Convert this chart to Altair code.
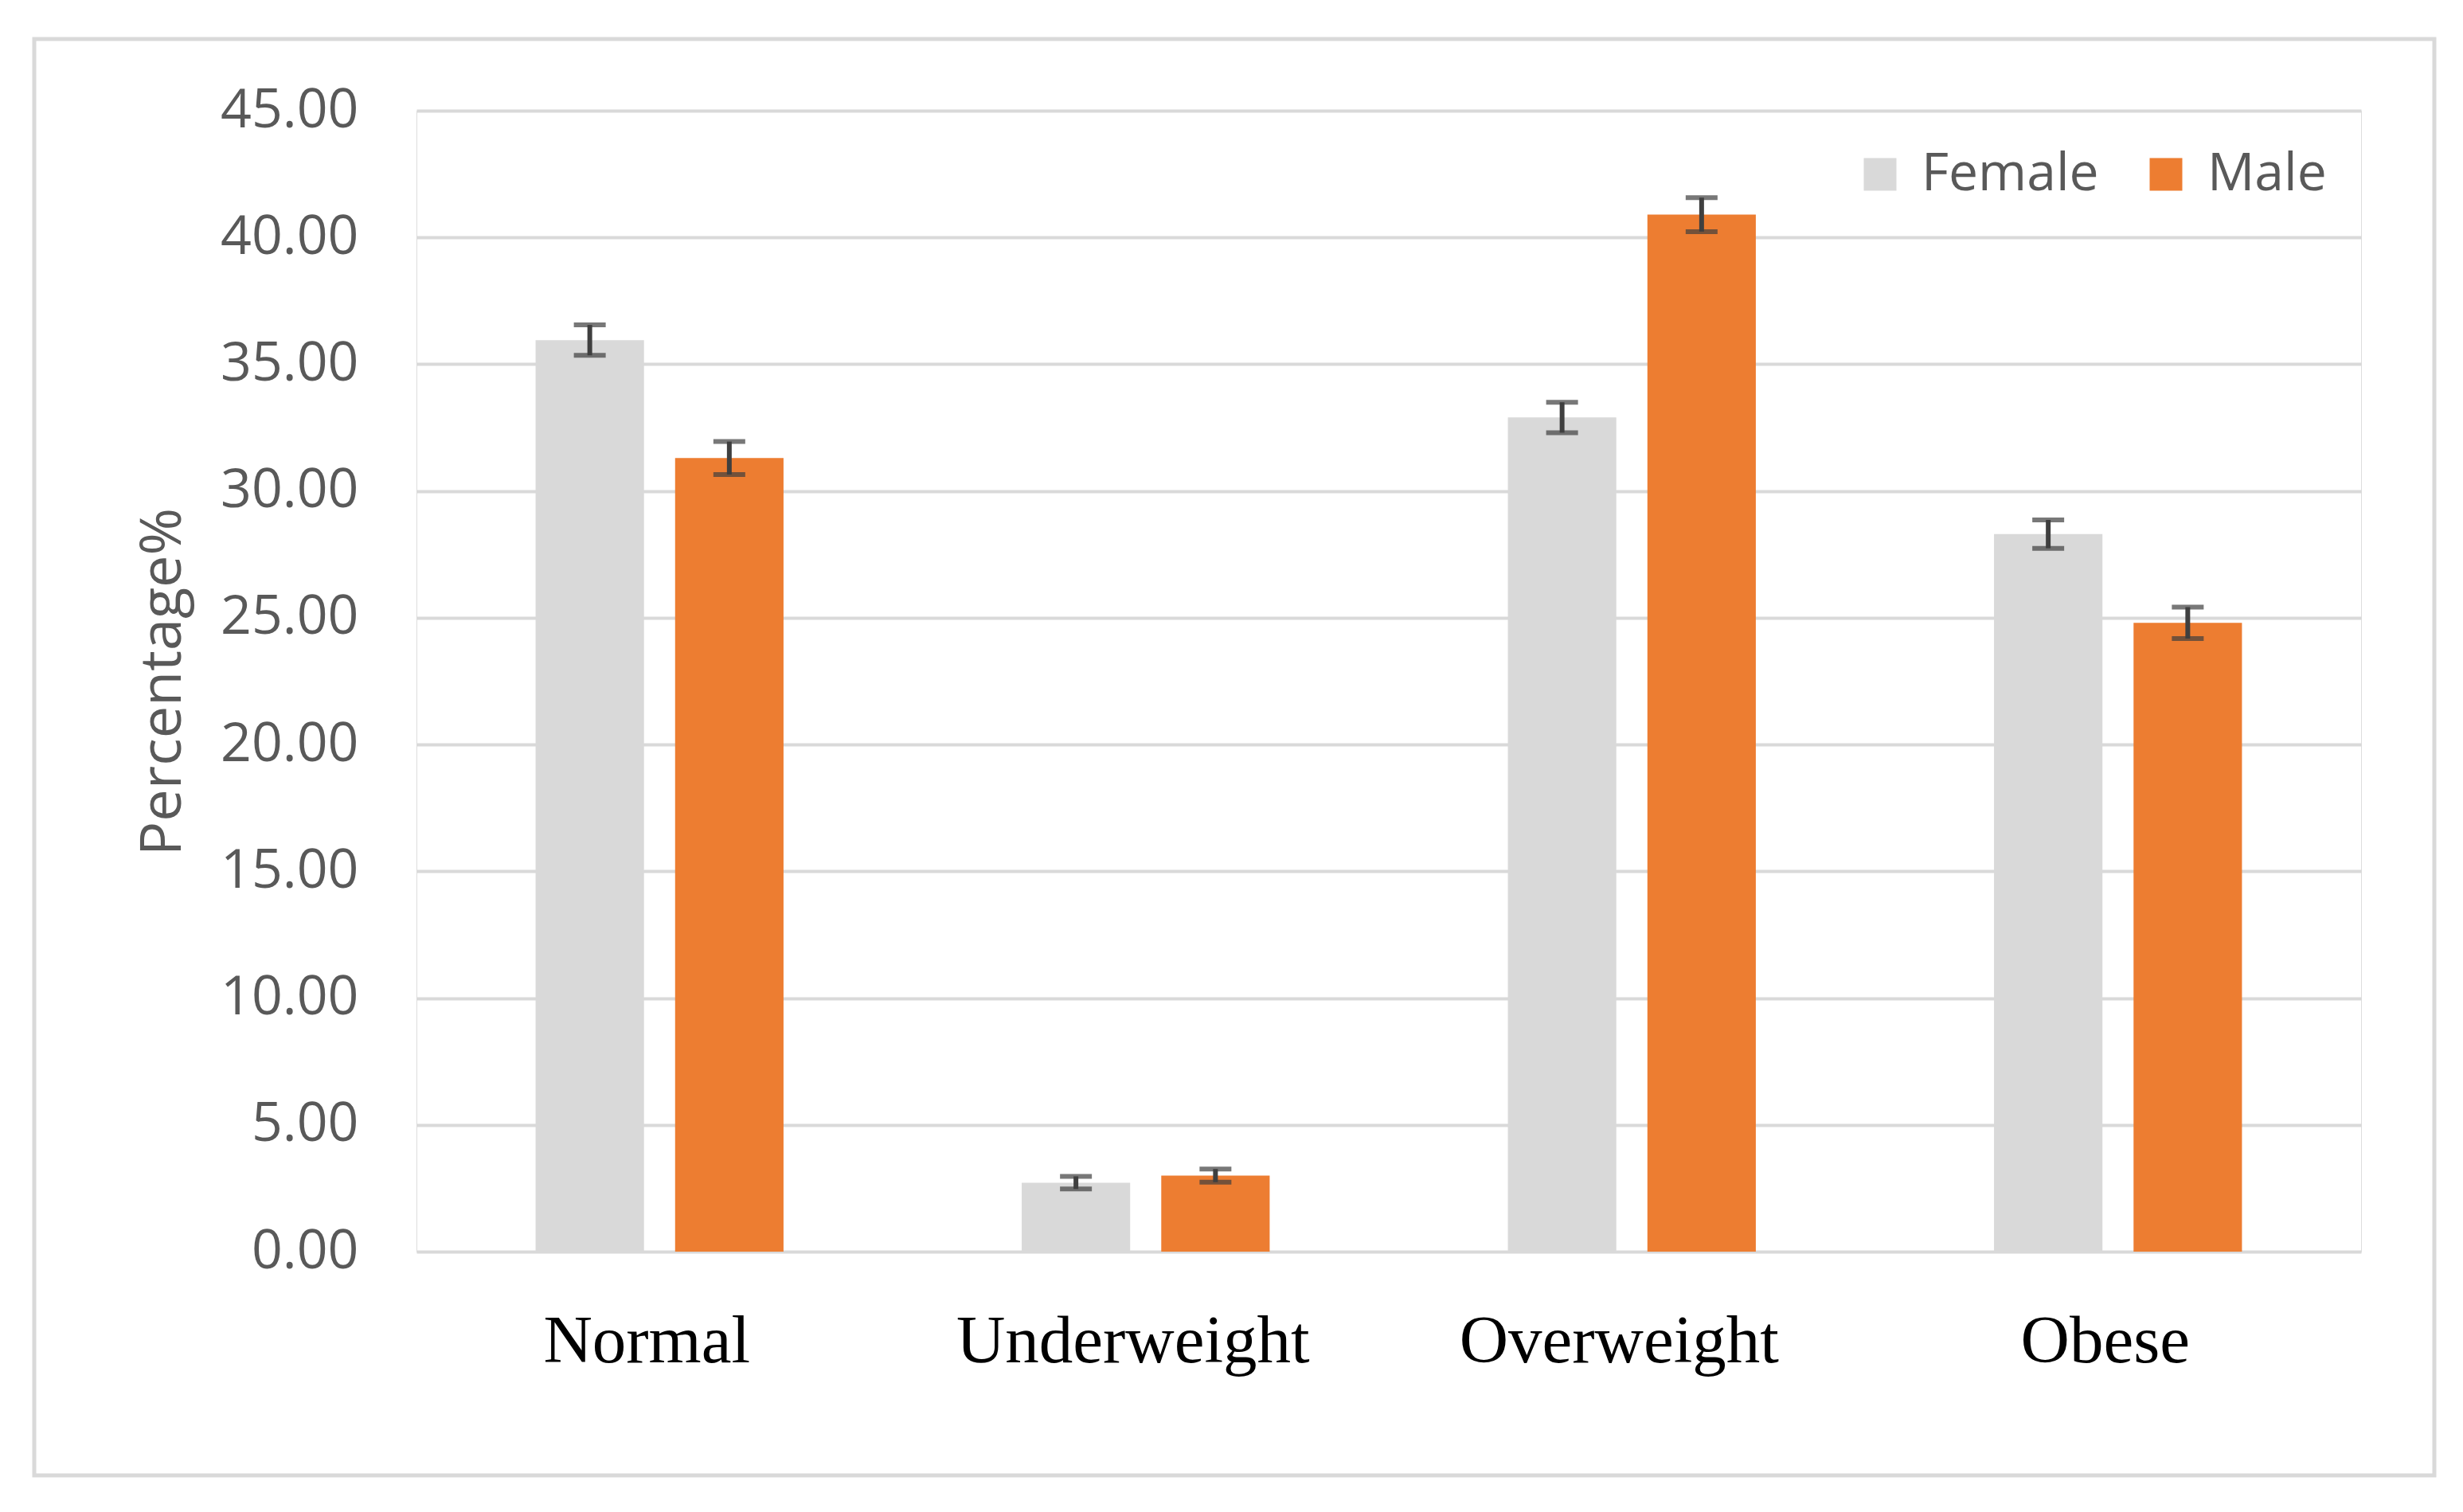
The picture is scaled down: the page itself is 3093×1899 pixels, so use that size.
import altair as alt
import pandas as pd

categories = ["Normal", "Underweight", "Overweight", "Obese"]
sexes = ["Female", "Male"]
female_values = [35.95, 2.72, 32.90, 28.30]
male_values = [31.30, 3.00, 40.90, 24.80]
female_err = [0.60, 0.25, 0.60, 0.56]
male_err = [0.65, 0.26, 0.67, 0.62]
colors = ["#D9D9D9", "#ED7D31"]
y_ticks = [0, 5, 10, 15, 20, 25, 30, 35, 40, 45]

rows = []
for i, c in enumerate(categories):
    rows.append({"cat": c, "sex": "Female", "val": female_values[i],
                 "lo": female_values[i] - female_err[i], "hi": female_values[i] + female_err[i]})
    rows.append({"cat": c, "sex": "Male", "val": male_values[i],
                 "lo": male_values[i] - male_err[i], "hi": male_values[i] + male_err[i]})
df = pd.DataFrame(rows)

x_enc = alt.X("cat:N", sort=categories,
              scale=alt.Scale(paddingInner=0.49, paddingOuter=0.245),
              axis=alt.Axis(title=None, labelAngle=0, labelFont="Liberation Serif",
                            labelFontSize=85, labelColor="#000000", labelPadding=138,
                            labelBaseline="alphabetic", labelOffset=-16, ticks=False, tickSize=0,
                            domain=False, grid=False, labelLimit=1000))
xo_enc = alt.XOffset("sex:N", sort=sexes, scale=alt.Scale(paddingInner=0.223, paddingOuter=0))
y_scale = alt.Scale(domain=[0, 45], nice=False)

bars = alt.Chart(df).mark_bar().encode(
    x=x_enc,
    xOffset=xo_enc,
    y=alt.Y("val:Q", scale=y_scale,
            axis=alt.Axis(title="Percentage%", values=y_ticks, format=".2f",
                          labelFont="Open Sans", labelFontSize=68, labelColor="#595959",
                          labelPadding=73, ticks=False, tickSize=0, domain=False,
                          grid=True, gridColor="#D9D9D9", gridWidth=4,
                          titleFont="Open Sans", titleFontSize=72, titleColor="#595959",
                          titleFontWeight="normal", titleAngle=270, titleAlign="center",
                          titleBaseline="alphabetic", titleX=-297, titleY=717)),
    color=alt.Color("sex:N", sort=sexes, scale=alt.Scale(domain=sexes, range=colors),
                    legend=alt.Legend(title=None, orient="none", legendX=1805, legendY=47,
                                      direction="horizontal", symbolType="square",
                                      symbolSize=1681, symbolStrokeWidth=0,
                                      labelFont="Open Sans", labelFontSize=66,
                                      labelColor="#595959", labelOffset=19,
                                      columnPadding=51, labelLimit=1000)),
)

stems = alt.Chart(df).mark_rule(color="#3F3F3F", strokeWidth=6).encode(
    x=alt.X("cat:N", sort=categories),
    xOffset=alt.XOffset("sex:N", sort=sexes),
    y=alt.Y("lo:Q", scale=y_scale),
    y2="hi:Q",
)

caps_hi = alt.Chart(df).mark_tick(color="#3F3F3F", thickness=6, size=40, orient="horizontal").encode(
    x=alt.X("cat:N", sort=categories),
    xOffset=alt.XOffset("sex:N", sort=sexes),
    y=alt.Y("hi:Q", scale=y_scale),
)
caps_lo = alt.Chart(df).mark_tick(color="#3F3F3F", thickness=6, size=40, orient="horizontal").encode(
    x=alt.X("cat:N", sort=categories),
    xOffset=alt.XOffset("sex:N", sort=sexes),
    y=alt.Y("lo:Q", scale=y_scale),
)

border = alt.Chart(alt.Data(values=[{"a": 1}])).mark_rect(
    fill="transparent", stroke="#D9D9D9", strokeWidth=5
).encode(
    x=alt.value(-480), x2=alt.value(2534), y=alt.value(-90), y2=alt.value(1714)
)

chart = alt.layer(border, bars, stems, caps_hi, caps_lo).properties(
    width=2442, height=1433,
    autosize=alt.AutoSizeParams(type="none"),
    padding={"left": 515, "top": 131, "right": 100, "bottom": 300},
).configure_view(stroke=None).configure(background="white")

chart.save("out.html", embed_options={"renderer": "svg", "actions": False})
